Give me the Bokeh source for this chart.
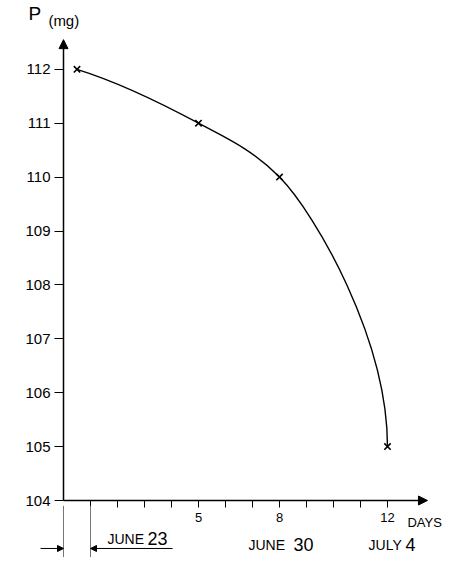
from bokeh.plotting import figure
from bokeh.models import (Range1d, FixedTicker, Arrow, NormalHead, Label)
from bokeh.embed import file_html
from bokeh.resources import INLINE

# ---- data ----
days = [0.5, 5, 8, 12]
mass = [112, 111, 110, 105]
y_ticks = [104, 105, 106, 107, 108, 109, 110, 111, 112]
x_ticks = [1, 2, 3, 4, 5, 6, 7, 8, 9, 10, 11, 12]
x_tick_labels = {5: "5", 8: "8", 12: "12"}
date_labels = ["JUNE 23", "JUNE 30", "JULY 4"]

FONT = "Liberation Sans"
W, H = 469, 565
PX_DAY, PX_MG = 27.0, 53.9      # pixel scale
ORG_X, ORG_Y = 63, 500          # origin (day 0, 104 mg) in figure pixels from top-left

p = figure(width=W, height=H, output_backend="svg", toolbar_location=None,
           x_range=Range1d(-ORG_X / PX_DAY, (W - ORG_X) / PX_DAY),
           y_range=Range1d(104 - (H - ORG_Y) / PX_MG, 104 + ORG_Y / PX_MG),
           min_border_left=0, min_border_right=0, min_border_top=0,
           min_border_bottom=0)
p.outline_line_color = None
p.grid.grid_line_color = None
p.background_fill_color = "white"

for ax in (p.xaxis, p.yaxis):
    ax.axis_line_color = None
    ax.major_tick_in = 0
    ax.minor_tick_line_color = None
    ax.major_tick_line_color = "black"
    ax.major_tick_line_width = 1
    ax.major_label_text_font = FONT
    ax.major_label_text_color = "black"

p.yaxis.fixed_location = 0
p.yaxis.ticker = FixedTicker(ticks=y_ticks)
p.yaxis.major_tick_out = 9
p.yaxis.major_label_standoff = 4
p.yaxis.major_label_text_font_size = "15px"

p.xaxis.fixed_location = 104
p.xaxis.ticker = FixedTicker(ticks=x_ticks)
p.xaxis.major_label_overrides = {t: x_tick_labels.get(t, "") for t in x_ticks}
p.xaxis.major_tick_out = 7
p.xaxis.major_label_standoff = 5
p.xaxis.major_label_text_font_size = "13px"

# axis lines with arrow heads
p.add_layout(Arrow(x_start=0, y_start=104, x_end=0, y_end=112.55,
                   line_color="black", line_width=1.5,
                   end=NormalHead(size=9, fill_color="black", line_color="black")))
p.add_layout(Arrow(x_start=0, y_start=104, x_end=13.48, y_end=104,
                   line_color="black", line_width=1.5,
                   end=NormalHead(size=9, fill_color="black", line_color="black")))

# smooth curve through the points (cubic bezier, monotone tangents)
n = len(days)
h = [days[i + 1] - days[i] for i in range(n - 1)]
d = [(mass[i + 1] - mass[i]) / h[i] for i in range(n - 1)]
m = [0.0] * n
m[0] = ((2 * h[0] + h[1]) * d[0] - h[0] * d[1]) / (h[0] + h[1])
for k in range(1, n - 1):
    w1 = 2 * h[k] + h[k - 1]
    w2 = h[k] + 2 * h[k - 1]
    m[k] = (w1 + w2) / (w1 / d[k - 1] + w2 / d[k])
x0, y0, x1, y1, cx0, cy0, cx1, cy1 = [], [], [], [], [], [], [], []
for i in range(n - 1):
    x0.append(days[i]); y0.append(mass[i])
    x1.append(days[i + 1]); y1.append(mass[i + 1])
    cx0.append(days[i] + h[i] / 3); cy0.append(mass[i] + m[i] * h[i] / 3)
    if i == n - 2:
        cx1.append(days[i + 1]); cy1.append(mass[i + 1] + (mass[i] - mass[i + 1]) * 0.4)
    else:
        cx1.append(days[i + 1] - h[i] / 3); cy1.append(mass[i + 1] - m[i + 1] * h[i] / 3)
p.bezier(x0=x0, y0=y0, x1=x1, y1=y1, cx0=cx0, cy0=cy0, cx1=cx1, cy1=cy1,
         line_color="black", line_width=1.4)
p.scatter(days, mass, marker="x", size=9, line_color="black", line_width=1.6)

# texts (positioned by the middle of their capitals)
def lab(x, y, text, size):
    p.add_layout(Label(x=x, y=y, text=text, text_font=FONT, text_font_size=size,
                       text_color="black", text_baseline="middle"))

lab(-1.3, 113.035, "P", "19px")
lab(-0.56, 112.905, "(mg)", "15px")
lab(12.74, 103.583, "DAYS", "13px")

# date annotations
date_pos = [(1.63, 3.11, 103.28), (6.85, 8.52, 103.17), (11.3, 12.67, 103.17)]
for text, (xm, xd, yc) in zip(date_labels, date_pos):
    month, dnum = text.split()
    lab(xm, yc, month, "14px")
    lab(xd, yc + 0.02, dnum, "18px")

# bracket showing the first day (June 23)
for xv in (0, 1):
    p.add_layout(Arrow(x_start=xv, y_start=103.9, x_end=xv, y_end=102.95,
                       line_color="#777777", line_width=1, end=None))
p.add_layout(Arrow(x_start=-0.85, y_start=103.11, x_end=0, y_end=103.11,
                   line_color="black", line_width=1,
                   end=NormalHead(size=6, fill_color="black", line_color="black")))
p.add_layout(Arrow(x_start=4.04, y_start=103.11, x_end=1, y_end=103.11,
                   line_color="black", line_width=1,
                   end=NormalHead(size=6, fill_color="black", line_color="black")))

open("out.html", "w").write(file_html(p, INLINE))
